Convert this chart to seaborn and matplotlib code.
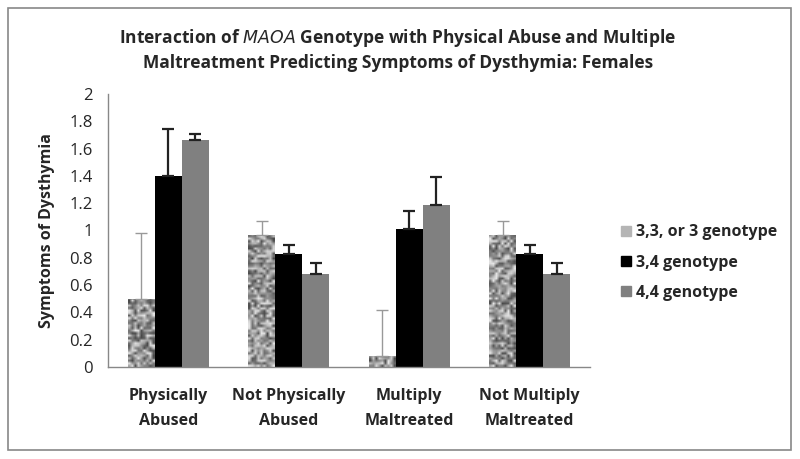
import numpy as np
import pandas as pd
import matplotlib
matplotlib.use("Agg")
import matplotlib.pyplot as plt
import seaborn as sns
from matplotlib.patches import Rectangle
from matplotlib.lines import Line2D

# Data
groups = ["Physically\nAbused", "Not Physically\nAbused",
          "Multiply\nMaltreated", "Not Multiply\nMaltreated"]
genotypes = ["3,3, or 3 genotype", "3,4 genotype", "4,4 genotype"]
means_33 = [0.50, 0.97, 0.08, 0.97]
means_34 = [1.40, 0.83, 1.01, 0.83]
means_44 = [1.66, 0.68, 1.19, 0.68]
err_33 = [0.48, 0.10, 0.34, 0.10]
err_34 = [0.34, 0.06, 0.13, 0.06]
err_44 = [0.05, 0.08, 0.20, 0.08]

colors = ["#b5b5b5", "#000000", "#808080"]

df = pd.DataFrame({
    "group": groups * 3,
    "genotype": [g for g in genotypes for _ in groups],
    "mean": means_33 + means_34 + means_44,
    "err": err_33 + err_34 + err_44,
})

sns.set_style("white")
plt.rcParams["font.family"] = ["Open Sans", "DejaVu Sans"]

fig = plt.figure(figsize=(8, 4.59), dpi=100)
ax = fig.add_axes([0.135, 0.2004, 0.6025, 0.595])

sns.barplot(data=df, x="group", y="mean", hue="genotype", order=groups,
            hue_order=genotypes, palette=colors, width=0.67, saturation=1,
            errorbar=None, ax=ax, legend=False, linewidth=0)

# stipple texture + error bars (upper only)
rng = np.random.default_rng(7)
for cont, gname in zip(ax.containers, genotypes):
    sub = df[df["genotype"] == gname].set_index("group").loc[groups]
    for bar, e in zip(cont, sub["err"]):
        x = bar.get_x() + bar.get_width() / 2
        top = bar.get_height()
        if gname == genotypes[0]:
            noise = rng.random((110, 9))
            im = ax.imshow(noise, cmap="gray", vmin=-0.45, vmax=1.15,
                           extent=[bar.get_x(), bar.get_x() + bar.get_width(), 0, 2],
                           aspect="auto", zorder=bar.get_zorder(),
                           interpolation="bilinear")
            im.set_clip_path(bar)
            ecol, lw = "#999999", 1.0
        else:
            ecol, lw = "#222222", 1.6
        ax.errorbar(x, top, yerr=[[0], [e]], fmt="none", ecolor=ecol,
                    elinewidth=lw, capsize=4, capthick=lw, zorder=3)

ax.set_xlim(-0.5, 3.5)
ax.set_ylim(0, 2)
ax.set_yticks(np.arange(0, 2.01, 0.2))
ax.set_yticklabels(["0", "0.2", "0.4", "0.6", "0.8", "1", "1.2", "1.4", "1.6", "1.8", "2"])
ax.set_xticks(range(4))
ax.set_xticklabels(groups, fontweight="bold", fontsize=11.5, linespacing=1.75)
ax.set_xticks(np.arange(-0.5, 3.6, 1), minor=True)
ax.tick_params(axis="x", which="major", length=0, pad=15)
ax.tick_params(axis="x", which="minor", length=5, direction="out", color="#888888")
ax.tick_params(axis="y", length=5, direction="out", color="#888888", labelsize=12,
               pad=6)
ax.set_xlabel("")
ax.set_ylabel("Symptoms of Dysthymia", fontweight="bold", fontsize=11.5, labelpad=10)
for s in ["top", "right"]:
    ax.spines[s].set_visible(False)
for s in ["left", "bottom"]:
    ax.spines[s].set_color("#888888")
    ax.spines[s].set_linewidth(1)

# title
fig.text(0.497, 0.917, "Interaction of $\\bf{\\it{MAOA}}$ Genotype with Physical Abuse and Multiple",
         ha="center", va="center", fontsize=12.5, fontweight="bold")
fig.text(0.497, 0.862, "Maltreatment Predicting Symptoms of Dysthymia: Females",
         ha="center", va="center", fontsize=12.5, fontweight="bold")

# legend
handles = [Line2D([], [], marker="s", linestyle="none", markersize=7,
                  markerfacecolor=c, markeredgecolor=c) for c in colors]
fig.legend(handles, genotypes, loc="center left", bbox_to_anchor=(0.755, 0.428),
           frameon=False, prop={"weight": "bold", "size": 11.5},
           handletextpad=0.1, labelspacing=0.9, handlelength=1.0)

# outer frame
fig.patches.append(Rectangle((0.01, 0.02), 0.979, 0.963, transform=fig.transFigure,
                             fill=False, edgecolor="#888888", linewidth=1.2))

fig.savefig("out.png", dpi=100)
